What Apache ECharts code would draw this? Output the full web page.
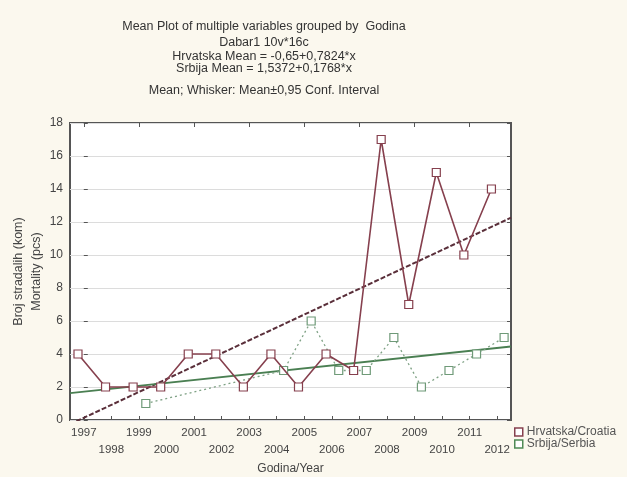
<!DOCTYPE html>
<html>
<head>
<meta charset="utf-8">
<script src="https://cdn.jsdelivr.net/npm/echarts@6/dist/echarts.min.js"></script>
<style>
html,body{margin:0;padding:0;background:#fbf8ee;}
#c{width:627px;height:477px;}
</style>
</head>
<body>
<div id="c"></div>
<script>
const years = ['1997','1998','1999','2000','2001','2002','2003','2004','2005','2006','2007','2008','2009','2010','2011','2012'];
const hrvatska = [4,2,2,2,4,4,2,4,2,4,3,17,7,15,10,14];
const srbija = [null,null,1,null,null,null,null,3,6,3,3,5,2,3,4,5];
const hrFit = [-0.65, 0.7824];
const srFit = [1.5372, 0.1768];
const yTicks = {min:0, max:18, interval:2};
const titles = ['Mean Plot of multiple variables grouped by  Godina','Dabar1 10v*16c','Hrvatska Mean = -0,65+0,7824*x','Srbija Mean = 1,5372+0,1768*x','Mean; Whisker: Mean\u00b10,95 Conf. Interval'];
const names = ['Hrvatska/Croatia','Srbija/Serbia'];

const HR_SHIFT = -0.21, SR_SHIFT = 0.25;
const font = 'Liberation Sans, Arial, sans-serif';
const hrColor = '#86404e', srColor = '#4f8a55';

function pts(arr, shift){
  const out = [];
  arr.forEach((v,i)=>{ if(v!==null) out.push([i+shift, v]); });
  return out;
}
function fitLine(f){
  const x0 = -0.5, x1 = years.length-0.5;
  return [[x0, f[0]+f[1]*(x0+1)], [x1, f[0]+f[1]*(x1+1)]];
}
const titleTops = [15, 31, 45, 57, 79];
const chart = echarts.init(document.getElementById('c'));
chart.setOption({
  backgroundColor:'#fbf8ee',
  animation:false,
  title: titles.map((t,i)=>({text:t, left:259, top:titleTops[i], textAlign:'center',
    textStyle:{fontFamily:font, fontSize:12.5, fontWeight:'normal', color:'#333'}})),
  grid:{left:70, right:116, top:123, bottom:57, outerBoundsMode:'none', containLabel:false,
    show:true, backgroundColor:'#ffffff', borderColor:'#555', borderWidth:2},
  legend:{
    orient:'vertical', left:514, top:426, itemGap:0, itemWidth:8, itemHeight:8, padding:0,
    data:[{name:names[0], icon:'rect', itemStyle:{color:'#fff', borderColor:hrColor, borderWidth:1.5}},
          {name:names[1], icon:'rect', itemStyle:{color:'#fff', borderColor:srColor, borderWidth:1.5}}],
    textStyle:{fontFamily:font, fontSize:12, color:'#555', lineHeight:11, padding:[0,0,0,-1]}
  },
  xAxis:[
    {type:'category', data:years, boundaryGap:true, position:'bottom',
     axisLine:{show:false}, axisTick:{show:true, alignWithLabel:true, inside:true, length:4, lineStyle:{color:'#555'}},
     axisLabel:{fontFamily:font, fontSize:11.5, color:'#444', margin:4, lineHeight:17, interval:0,
       formatter:(v,i)=> i%2===1 ? '\n'+v : v},
     name:'Godina/Year', nameLocation:'middle', nameGap:42,
     nameTextStyle:{fontFamily:font, fontSize:12, color:'#444'}},
    {type:'value', min:-0.5, max:years.length-0.5, show:false},
    {type:'category', data:years, boundaryGap:true, position:'top',
     axisLine:{show:false}, axisTick:{show:true, alignWithLabel:true, inside:true, length:4, lineStyle:{color:'#555'}},
     axisLabel:{show:false}}
  ],
  yAxis:[
    {type:'value', min:yTicks.min, max:yTicks.max, interval:yTicks.interval,
     axisLine:{show:false}, axisTick:{show:true, inside:true, length:4, lineStyle:{color:'#555'}},
     splitLine:{show:true, lineStyle:{color:'#dcdcdc', width:1}},
     axisLabel:{fontFamily:font, fontSize:12, color:'#444', margin:7},
     name:'Broj stradalih (kom)\nMortality (pcs)', nameLocation:'middle', nameGap:24, nameRotate:90,
     nameMoveOverlap:false,
     nameTextStyle:{fontFamily:font, fontSize:12.5, color:'#444', lineHeight:18}},
    {type:'value', min:yTicks.min, max:yTicks.max, interval:yTicks.interval, position:'right',
     axisLine:{show:false}, axisTick:{show:true, inside:true, length:4, lineStyle:{color:'#555'}},
     splitLine:{show:false}, axisLabel:{show:false}}
  ],
  series:[
    {name:names[0], type:'line', xAxisIndex:1, data:pts(hrvatska, HR_SHIFT),
     symbol:'rect', symbolSize:8, showSymbol:true,
     lineStyle:{color:hrColor, width:1.6},
     itemStyle:{color:'#ffffff', borderColor:hrColor, borderWidth:1.2}, z:4},
    {name:names[1], type:'line', xAxisIndex:1, data:pts(srbija, SR_SHIFT),
     symbol:'rect', symbolSize:8,
     lineStyle:{color:'#7ea184', width:1.3, type:[2,3]},
     itemStyle:{color:'#ffffff', borderColor:'#6f9a78', borderWidth:1.2}, z:3},
    {name:'hrFit', type:'line', xAxisIndex:1, data:fitLine(hrFit), symbol:'none', clip:true,
     lineStyle:{color:'#5a2f3a', width:2, type:[5,2]}, z:2, silent:true},
    {name:'srFit', type:'line', xAxisIndex:1, data:fitLine(srFit), symbol:'none', clip:true,
     lineStyle:{color:'#4a7f52', width:1.8}, z:2, silent:true}
  ]
});
</script>
</body>
</html>
